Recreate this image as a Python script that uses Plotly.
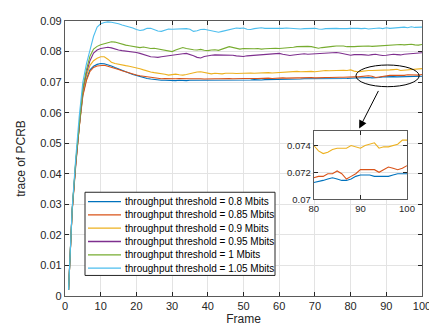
import plotly.graph_objects as go

frames = list(range(1, 101))

labels = [
    "throughput threshold = 0.8 Mbits",
    "throughput threshold = 0.85 Mbits",
    "throughput threshold = 0.9 Mbits",
    "throughput threshold = 0.95 Mbits",
    "throughput threshold = 1 Mbits",
    "throughput threshold = 1.05 Mbits",
]

pcrb_080 = [
    0.0020, 0.0280, 0.0430, 0.0560, 0.0660, 0.0710, 0.0740, 0.0752, 0.0758, 0.0761,
    0.0760, 0.0757, 0.0753, 0.0748, 0.0743, 0.0738, 0.0733, 0.0729, 0.0725, 0.0722,
    0.0718, 0.0715, 0.0712, 0.0710, 0.0708, 0.0707, 0.0706, 0.0706, 0.0705, 0.0705,
    0.0705, 0.0706, 0.0705, 0.0705, 0.0706, 0.0706, 0.0705, 0.0705, 0.0706, 0.0706,
    0.0706, 0.0706, 0.0707, 0.0706, 0.0706, 0.0707, 0.0707, 0.0706, 0.0707, 0.0707,
    0.0707, 0.0707, 0.0708, 0.0707, 0.0707, 0.0708, 0.0708, 0.0708, 0.0709, 0.0709,
    0.0709, 0.0709, 0.0710, 0.0709, 0.0710, 0.0710, 0.0711, 0.0711, 0.0710, 0.0711,
    0.0711, 0.0712, 0.0711, 0.0711, 0.0712, 0.0712, 0.0712, 0.0711, 0.0712, 0.07125,
    0.0713, 0.0714, 0.0715, 0.0716, 0.0715, 0.0714, 0.0714, 0.0715, 0.0717, 0.0718,
    0.0718, 0.0718, 0.0717, 0.0717, 0.0717, 0.0717, 0.0718, 0.0719, 0.0719, 0.0719,
]

pcrb_085 = [
    0.0020, 0.0275, 0.0425, 0.0555, 0.0655, 0.0705, 0.0735, 0.0748, 0.0753, 0.0755,
    0.0755, 0.0752, 0.0749, 0.0745, 0.0741, 0.0737, 0.0733, 0.0729, 0.0726, 0.0723,
    0.0721, 0.0719, 0.0717, 0.0715, 0.0713, 0.0712, 0.0711, 0.0712, 0.0711, 0.0710,
    0.0711, 0.0712, 0.0711, 0.0710, 0.0711, 0.0711, 0.0712, 0.0711, 0.0710, 0.0711,
    0.0712, 0.0711, 0.0711, 0.0712, 0.0713, 0.0712, 0.0711, 0.0712, 0.0713, 0.0712,
    0.0712, 0.0713, 0.0712, 0.0712, 0.0713, 0.0714, 0.0713, 0.0712, 0.0713, 0.0714,
    0.0714, 0.0713, 0.0714, 0.0715, 0.0714, 0.0714, 0.0715, 0.0716, 0.0715, 0.0714,
    0.0715, 0.0716, 0.0715, 0.0715, 0.0716, 0.0717, 0.0716, 0.0716, 0.0717, 0.0716,
    0.0717, 0.0717, 0.0719, 0.0719, 0.0721, 0.0719, 0.0715, 0.0717, 0.0719, 0.0722,
    0.0722, 0.0722, 0.0722, 0.0720, 0.0722, 0.0724, 0.0723, 0.0722, 0.0723, 0.0725,
]

pcrb_090 = [
    0.0020, 0.0280, 0.0435, 0.0565, 0.0670, 0.0720, 0.0755, 0.0770, 0.0778, 0.0783,
    0.0783, 0.0775, 0.0765, 0.0761, 0.0758, 0.0756, 0.0754, 0.0752, 0.0750, 0.0748,
    0.0744, 0.0740, 0.0736, 0.0733, 0.0731, 0.0730, 0.0729, 0.0726, 0.0723, 0.0724,
    0.0726, 0.0724, 0.0723, 0.0725, 0.0728, 0.0730, 0.0733, 0.0734, 0.0731, 0.0728,
    0.0727, 0.0729, 0.0728, 0.0727, 0.0729, 0.0730, 0.0729, 0.0728, 0.0729, 0.0730,
    0.0731, 0.0730, 0.0729, 0.0730, 0.0731, 0.0732, 0.0731, 0.0730, 0.0731, 0.0732,
    0.0733, 0.0732, 0.0733, 0.0734, 0.0735, 0.0734, 0.0735, 0.0736, 0.0735, 0.0734,
    0.0736, 0.0737, 0.0738, 0.0737, 0.0738, 0.0739, 0.0740, 0.0739, 0.0738, 0.0740,
    0.0736, 0.0734, 0.0735, 0.0737, 0.0738, 0.0738, 0.0738, 0.0740, 0.0739, 0.0738,
    0.0740, 0.0741, 0.0742, 0.0738, 0.0739, 0.0739, 0.0740, 0.0741, 0.0744, 0.0744,
]

pcrb_095 = [
    0.0020, 0.0280, 0.0435, 0.0565, 0.0675, 0.0730, 0.0770, 0.0795, 0.0805, 0.0810,
    0.0813, 0.0814, 0.0812, 0.0808, 0.0805, 0.0803, 0.0802, 0.0800, 0.0799, 0.0797,
    0.0794, 0.0790, 0.0786, 0.0783, 0.0782, 0.0781, 0.0783, 0.0785, 0.0786, 0.0788,
    0.0789, 0.0791, 0.0793, 0.0794, 0.0791, 0.0786, 0.0781, 0.0779, 0.0784, 0.0787,
    0.0788, 0.0789, 0.0789, 0.0790, 0.0789, 0.0790, 0.0788, 0.0786, 0.0785, 0.0784,
    0.0786, 0.0787, 0.0786, 0.0788, 0.0789, 0.0790, 0.0791, 0.0792, 0.0793, 0.0794,
    0.0791, 0.0788, 0.0787, 0.0789, 0.0790, 0.0792, 0.0793, 0.0791, 0.0792, 0.0793,
    0.0792, 0.0793, 0.0794, 0.0795, 0.0796, 0.0797, 0.0795, 0.0792, 0.0789, 0.0788,
    0.0790, 0.0791, 0.0790, 0.0789, 0.0788, 0.0790, 0.0791, 0.0789, 0.0787, 0.0788,
    0.0790, 0.0791, 0.0790, 0.0789, 0.0791, 0.0792, 0.0793, 0.0794, 0.0795, 0.0796,
]

pcrb_100 = [
    0.0020, 0.0280, 0.0440, 0.0570, 0.0680, 0.0740, 0.0785, 0.0808, 0.0817, 0.0822,
    0.0826, 0.0830, 0.0832, 0.0831, 0.0827, 0.0823, 0.0821, 0.0819, 0.0817, 0.0816,
    0.0813, 0.0815, 0.0812, 0.0810, 0.0811, 0.0809, 0.0807, 0.0806, 0.0802, 0.0800,
    0.0805, 0.0810, 0.0813, 0.0810, 0.0807, 0.0806, 0.0805, 0.0807, 0.0804, 0.0803,
    0.0805, 0.0806, 0.0804, 0.0807, 0.0812, 0.0816, 0.0813, 0.0809, 0.0808, 0.0810,
    0.0809, 0.0808, 0.0809, 0.0810, 0.0808, 0.0809, 0.0810, 0.0809, 0.0811, 0.0810,
    0.0811, 0.0810, 0.0812, 0.0814, 0.0816, 0.0817, 0.0816, 0.0817, 0.0816, 0.0813,
    0.0811, 0.0813, 0.0815, 0.0816, 0.0817, 0.0818, 0.0819, 0.0818, 0.0816, 0.0815,
    0.0816, 0.0817, 0.0818, 0.0819, 0.0818, 0.0817, 0.0818, 0.0819, 0.0820, 0.0819,
    0.0820, 0.0821, 0.0822, 0.0823, 0.0822, 0.0823, 0.0824, 0.0822, 0.0821, 0.0823,
]

pcrb_105 = [
    0.0020, 0.0285, 0.0450, 0.0590, 0.0700, 0.0760, 0.0805, 0.0850, 0.0880, 0.0891,
    0.0895, 0.0897, 0.0896, 0.0894, 0.0891, 0.0887, 0.0884, 0.0881, 0.0877, 0.0872,
    0.0869, 0.0871, 0.0876, 0.0876, 0.0872, 0.0867, 0.0866, 0.0870, 0.0874, 0.0873,
    0.0874, 0.0875, 0.0874, 0.0875, 0.0873, 0.0866, 0.0868, 0.0872, 0.0873, 0.0871,
    0.0868, 0.0866, 0.0863, 0.0866, 0.0869, 0.0872, 0.0875, 0.0877, 0.0876, 0.0877,
    0.0873, 0.0872, 0.0875, 0.0877, 0.0878, 0.0876, 0.0876, 0.0875, 0.0874, 0.0875,
    0.0876, 0.0877, 0.0876, 0.0874, 0.0875, 0.0874, 0.0875, 0.0876, 0.0877, 0.0876,
    0.0874, 0.0873, 0.0875, 0.0876, 0.0877, 0.0876, 0.0875, 0.0874, 0.0875, 0.0876,
    0.0877, 0.0876, 0.0875, 0.0876, 0.0874, 0.0875, 0.0876, 0.0877, 0.0875, 0.0878,
    0.0876, 0.0877, 0.0878, 0.0879, 0.0880, 0.0878, 0.0881, 0.0879, 0.0879, 0.0880,
]

series = [pcrb_080, pcrb_085, pcrb_090, pcrb_095, pcrb_100, pcrb_105]
colors = ["#0072BD", "#D95319", "#EDB120", "#7E2F8E", "#77AC30", "#4DBEEE"]

x_ticks = [0, 10, 20, 30, 40, 50, 60, 70, 80, 90, 100]
y_ticks = [0, 0.01, 0.02, 0.03, 0.04, 0.05, 0.06, 0.07, 0.08, 0.09]
y_ticktext = ["0", "0.01", "0.02", "0.03", "0.04", "0.05", "0.06", "0.07", "0.08", "0.09"]
inset_x_ticks = [80, 90, 100]
inset_y_ticks = [0.07, 0.072, 0.074]
inset_y_ticktext = ["0.07", "0.072", "0.074"]
inset_start = 80

FONT = "Liberation Sans, Arial, Helvetica, sans-serif"
AX = "#262626"
AXLINE = "#5a5a5a"
GRID = "#e3e3e3"

W, H = 437, 329
ML, MR, MT, MB = 57, 23, 7, 41
PW, PH = W - ML - MR, H - MT - MB


def px(xp):
    return (xp - ML) / PW


def py(yp):
    return (H - MB - yp) / PH


fig = go.Figure()
for name, vals, c in zip(labels, series, colors):
    fig.add_trace(go.Scatter(x=frames, y=vals, mode="lines", name=name,
                             line=dict(color=c, width=1.1), xaxis="x", yaxis="y",
                             showlegend=False))
i0 = frames.index(inset_start)
for name, vals, c in zip(labels, series, colors):
    fig.add_trace(go.Scatter(x=frames[i0:], y=vals[i0:], mode="lines", name=name,
                             line=dict(color=c, width=1.1), xaxis="x2", yaxis="y2",
                             showlegend=False))

axis_common = dict(showline=True, linecolor=AXLINE, linewidth=1.3, mirror="ticks",
                   ticks="inside", ticklen=4, tickcolor=AX, showgrid=True,
                   gridcolor=GRID, gridwidth=1, zeroline=False)

fig.update_layout(
    width=W, height=H,
    margin=dict(l=ML, r=MR, t=MT, b=MB),
    paper_bgcolor="white", plot_bgcolor="white",
    font=dict(family=FONT, color=AX, size=11),
    xaxis=dict(range=[0, 100], tickvals=x_ticks, domain=[0, 1],
               tickfont=dict(size=11, color=AX),
               title=dict(text="Frame", font=dict(size=12), standoff=1),
               **axis_common),
    yaxis=dict(range=[0, 0.09], tickvals=y_ticks, ticktext=y_ticktext, domain=[0, 1],
               tickfont=dict(size=11, color=AX),
               title=dict(text="trace of PCRB", font=dict(size=12), standoff=12),
               **axis_common),
    xaxis2=dict(range=[80, 100], tickvals=inset_x_ticks, domain=[0.697, 0.958],
                anchor="y2", tickfont=dict(size=9.5, color=AX), **axis_common),
    yaxis2=dict(range=[0.07, 0.0751], tickvals=inset_y_ticks, ticktext=inset_y_ticktext,
                domain=[0.352, 0.601], anchor="x2", tickfont=dict(size=9.5, color=AX),
                **axis_common),
    showlegend=False,
)

# custom legend (compact MATLAB-style box)
fig.add_shape(type="rect", xref="paper", yref="paper", x0=px(77), x1=px(267),
              y0=py(267), y1=py(182), fillcolor="white", line=dict(color=AX, width=1),
              layer="above")
row_y0, row_gap = 191.5, 13.6
for k, (name, c) in enumerate(zip(labels, colors)):
    yy = py(row_y0 + k * row_gap)
    fig.add_shape(type="line", xref="paper", yref="paper", x0=px(80), x1=px(113),
                  y0=yy, y1=yy, line=dict(color=c, width=1.3), layer="above")
    fig.add_annotation(xref="paper", yref="paper", x=px(115), y=yy, text=name,
                       showarrow=False, xanchor="left", yanchor="middle",
                       font=dict(size=10, color="#000000", family=FONT))

fig.add_shape(type="circle", xref="x", yref="y", x0=81.5, x1=99.2, y0=0.0685, y1=0.0756,
              line=dict(color="black", width=1))
fig.add_annotation(x=82.4, y=0.0548, ax=88.0, ay=0.0676, xref="x", yref="y",
                   axref="x", ayref="y", text="", showarrow=True,
                   arrowhead=2, arrowsize=1.6, arrowwidth=1, arrowcolor="black")

fig.write_html("out.html")
